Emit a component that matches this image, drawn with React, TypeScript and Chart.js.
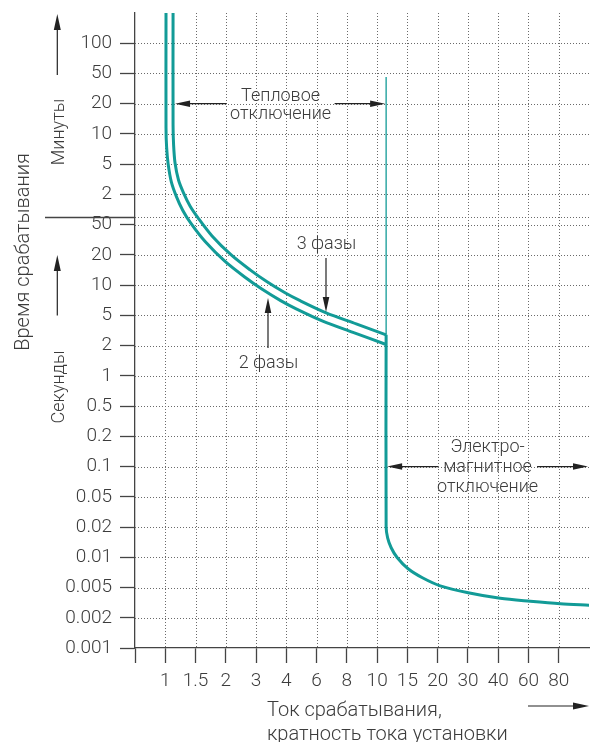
import { useEffect, useRef } from 'react';
import { Chart, registerables } from 'chart.js';

Chart.register(...registerables);

// ---------- Data ----------
// Current axis: multiples of the setting current (ticks evenly spaced on the axis)
const X_TICK_VALUES = [1, 1.5, 2, 3, 4, 6, 8, 10, 15, 20, 30, 40, 60, 80];
const X_TICK_LABELS = ['1', '1.5', '2', '3', '4', '6', '8', '10', '15', '20', '30', '40', '60', '80'];

// Time axis: seconds part and minutes part
const Y_SECOND_VALUES = [0.001, 0.002, 0.005, 0.01, 0.02, 0.05, 0.1, 0.2, 0.5, 1, 2, 5, 10, 20, 50];
const Y_SECOND_LABELS = ['0.001', '0.002', '0.005', '0.01', '0.02', '0.05', '0.1', '0.2', '0.5', '1', '2', '5', '10', '20', '50'];
const Y_MINUTE_VALUES = [2, 5, 10, 20, 50, 100];
const Y_MINUTE_LABELS = ['2', '5', '10', '20', '50', '100'];

// Thermal trip curve, 3 phases (current multiple, time in seconds)
const THREE_PHASE_CURRENT = [1.11, 1.11, 1.118, 1.14, 1.194, 1.277, 1.393, 1.536, 1.755, 2.15, 2.77, 3.33, 3.95, 4.81, 6.57, 8.57, 11.28];
const THREE_PHASE_TIME_S = [12000, 740, 467, 308, 186, 126, 86, 61, 35.6, 20, 14.2, 10.8, 8.4, 7.0, 5.3, 3.87, 2.77];

// Thermal trip curve, 2 phases
const TWO_PHASE_CURRENT = [1.01, 1.01, 1.018, 1.039, 1.0845, 1.158, 1.263, 1.4075, 1.647, 1.986, 2.575, 3.18, 3.79, 4.565, 6.36, 8.37, 11.28];
const TWO_PHASE_TIME_S = [12000, 689, 446, 302, 175.5, 114.4, 76, 52.2, 29.7, 17.2, 12.04, 9.08, 7.01, 5.8, 4.2, 2.99, 2.07];

// Electromagnetic trip
const MAGNETIC_CURRENT = [11.28, 11.28, 11.51, 12.07, 13.07, 15.1, 17.3, 20.7, 30.07, 41.1, 61, 81.2, 106.9];
const MAGNETIC_TIME_S = [2.77, 0.0202, 0.0156, 0.01245, 0.00995, 0.00769, 0.00626, 0.0052, 0.00427, 0.00361, 0.0033, 0.00306, 0.00293];

// Thin marker of the electromagnetic threshold
const MARKER_CURRENT = [11.28, 11.28];
const MARKER_TIME_S = [2700, 2.77];

// ---------- Derived ----------
const Y_TICK_SECONDS = [...Y_SECOND_VALUES, ...Y_MINUTE_VALUES.map((m) => m * 60)];
const Y_TICK_LABELS = [...Y_SECOND_LABELS, ...Y_MINUTE_LABELS];
const SCALE_BREAK = Y_SECOND_VALUES.length - 1 + 0.25; // seconds / minutes divider
const X_MAX = X_TICK_VALUES.length + 1;
const Y_MAX = Y_TICK_SECONDS.length;

const TEAL = '#129b97';
const AXIS = '#444444';
const GRID = '#6a6a6a';
const TEXT = '#3c3c3c';
const FAMILY = "Roboto, 'Liberation Sans', Arial, sans-serif";

// piecewise-logarithmic position between evenly spaced ticks
function logPos(v: number, ticks: number[], first: number): number {
  const n = ticks.length;
  let k = 0;
  while (k < n - 2 && v > ticks[k + 1]) k++;
  return first + k + Math.log(v / ticks[k]) / Math.log(ticks[k + 1] / ticks[k]);
}

function toPoints(cur: number[], time: number[]) {
  return cur.map((c, i) => ({ x: logPos(c, X_TICK_VALUES, 1), y: logPos(time[i], Y_TICK_SECONDS, 0) }));
}

function arrow(ctx: CanvasRenderingContext2D, x1: number, y1: number, x2: number, y2: number, len = 15, half = 3.3) {
  const a = Math.atan2(y2 - y1, x2 - x1);
  const c = Math.cos(a);
  const s = Math.sin(a);
  ctx.beginPath();
  ctx.moveTo(x1, y1);
  ctx.lineTo(x2 - c * len * 0.7, y2 - s * len * 0.7);
  ctx.stroke();
  ctx.beginPath();
  ctx.moveTo(x2, y2);
  ctx.lineTo(x2 - len * c + half * s, y2 - len * s - half * c);
  ctx.lineTo(x2 - len * c - half * s, y2 - len * s + half * c);
  ctx.closePath();
  ctx.fill();
}

const gridPlugin = {
  id: 'dottedGrid',
  beforeDatasetsDraw(chart: any) {
    const { ctx, chartArea } = chart;
    const xs = chart.scales.x;
    const ys = chart.scales.y;
    ctx.save();
    ctx.strokeStyle = GRID;
    ctx.lineWidth = 1;
    ctx.setLineDash([1, 2]);
    for (let i = 1; i <= X_TICK_VALUES.length; i++) {
      const px = Math.round(xs.getPixelForValue(i)) + 0.5;
      ctx.beginPath();
      ctx.moveTo(px, chartArea.top);
      ctx.lineTo(px, chartArea.bottom);
      ctx.stroke();
    }
    const yVals = Y_TICK_SECONDS.map((_, i) => i).filter((i) => i > 0);
    yVals.push(SCALE_BREAK);
    for (const v of yVals) {
      const py = Math.round(ys.getPixelForValue(v)) + 0.5;
      ctx.beginPath();
      ctx.moveTo(chartArea.left, py);
      ctx.lineTo(chartArea.right, py);
      ctx.stroke();
    }
    ctx.restore();
  },
};

const annotationPlugin = {
  id: 'annotations',
  afterDraw(chart: any) {
    const { ctx, chartArea } = chart;
    const xs = chart.scales.x;
    const ys = chart.scales.y;
    ctx.save();

    // seconds / minutes divider left of the axis
    const yb = Math.round(ys.getPixelForValue(SCALE_BREAK)) + 0.5;
    ctx.strokeStyle = AXIS;
    ctx.lineWidth = 1.3;
    ctx.beginPath();
    ctx.moveTo(45, yb);
    ctx.lineTo(chartArea.left, yb);
    ctx.stroke();

    ctx.fillStyle = TEXT;
    ctx.strokeStyle = '#222';
    ctx.lineWidth = 1.2;

    // vertical titles
    const vText = (t: string, x: number, y: number, size: number) => {
      ctx.save();
      ctx.translate(x, y);
      ctx.rotate(-Math.PI / 2);
      ctx.fillStyle = TEXT;
      ctx.font = `300 ${size}px ${FAMILY}`;
      ctx.textAlign = 'center';
      ctx.textBaseline = 'alphabetic';
      ctx.fillText(t, 0, 0);
      ctx.restore();
    };
    vText('Время срабатывания', 28.5, 252, 20);
    vText('Минуты', 63.5, 132, 18);
    vText('Секунды', 63.5, 387, 18);
    ctx.fillStyle = '#222';
    arrow(ctx, 57.3, ys.getPixelForValue(19) + 1.5, 57.3, chartArea.top + 1, 16, 3.5);
    arrow(ctx, 57.3, ys.getPixelForValue(11), 57.3, ys.getPixelForValue(13), 16, 3.5);

    const hText = (t: string, x: number, y: number, size: number, align: CanvasTextAlign = 'center') => {
      ctx.fillStyle = TEXT;
      ctx.font = `300 ${size}px ${FAMILY}`;
      ctx.textAlign = align;
      ctx.textBaseline = 'alphabetic';
      ctx.fillText(t, x, y);
      ctx.fillStyle = '#222';
    };

    // thermal trip zone
    const xTherm = xs.getPixelForValue(logPos(THREE_PHASE_CURRENT[0], X_TICK_VALUES, 1)) + 2;
    const xMag = xs.getPixelForValue(logPos(MAGNETIC_CURRENT[0], X_TICK_VALUES, 1));
    const yT = ys.getPixelForValue(18);
    const cT = (xTherm + xMag) / 2;
    arrow(ctx, cT - 54, yT, xTherm, yT);
    arrow(ctx, cT + 54, yT, xMag - 1, yT);
    hText('Тепловое', cT, yT - 3, 18);
    hText('отключение', cT, yT + 15.5, 18);

    // electromagnetic zone
    const yE = ys.getPixelForValue(6);
    const xL = xMag + 1;
    const xR = chartArea.right - 1;
    const cE = (xL + xR) / 2;
    arrow(ctx, cE - 49.5, yE, xL, yE);
    arrow(ctx, cE + 49.5, yE, xR, yE);
    hText('Электро-', cE, yE - 15, 18);
    hText('магнитное', cE, yE + 5, 18);
    hText('отключение', cE, yE + 25, 18);

    // phase labels
    hText('3 фазы', 326.5, 249, 18);
    arrow(ctx, 326, 258, 326, 312);
    hText('2 фазы', 268.5, 368, 18);
    arrow(ctx, 268, 348, 268, 298);

    // x title
    hText('Ток срабатывания,', 267, 716, 20, 'left');
    hText('кратность тока установки', 267, 740, 20, 'left');
    arrow(ctx, 528, 706, chartArea.right, 706, 16, 3.5);

    ctx.restore();
  },
};

export default function App() {
  const ref = useRef<HTMLCanvasElement>(null);

  useEffect(() => {
    const canvas = ref.current;
    if (!canvas) return;
    const lineDs = (data: any[], width: number) => ({
      data,
      showLine: true,
      borderColor: TEAL,
      backgroundColor: TEAL,
      borderWidth: width,
      pointRadius: 0,
      pointHoverRadius: 0,
      tension: 0.3,
      fill: false,
    });
    const tickFont = { family: FAMILY, size: 19, weight: 300 as any };
    const chart = new Chart(canvas, {
      type: 'scatter',
      data: {
        datasets: [
          lineDs(toPoints(MARKER_CURRENT, MARKER_TIME_S), 1.3),
          lineDs(toPoints(TWO_PHASE_CURRENT, TWO_PHASE_TIME_S), 3),
          lineDs(toPoints(THREE_PHASE_CURRENT, THREE_PHASE_TIME_S), 3),
          lineDs(toPoints(MAGNETIC_CURRENT, MAGNETIC_TIME_S), 3),
        ],
      },
      options: {
        responsive: false,
        animation: false,
        events: [],
        layout: { padding: { top: 13, right: 6, left: 0, bottom: 0 } },
        plugins: { legend: { display: false }, tooltip: { enabled: false } },
        scales: {
          x: {
            type: 'linear',
            min: 0,
            max: X_MAX,
            afterBuildTicks: (s: any) => {
              s.ticks = Array.from({ length: X_TICK_VALUES.length + 1 }, (_, i) => ({ value: i }));
            },
            afterFit: (s: any) => {
              s.height = 94;
              s.paddingLeft = 0;
              s.paddingRight = 0;
            },
            ticks: {
              autoSkip: false,
              maxRotation: 0,
              padding: 7,
              color: TEXT,
              font: tickFont,
              callback: (v: any) => (v >= 1 ? X_TICK_LABELS[v - 1] : ''),
            },
            grid: {
              drawOnChartArea: false,
              color: AXIS,
              tickLength: 15,
              tickColor: AXIS,
              tickWidth: 1.3,
            },
            border: { display: true, color: AXIS, width: 1.3 },
          },
          y: {
            type: 'linear',
            min: 0,
            max: Y_MAX,
            afterBuildTicks: (s: any) => {
              s.ticks = Y_TICK_SECONDS.map((_, i) => ({ value: i }));
            },
            afterFit: (s: any) => {
              s.width = 135;
              s.paddingTop = 0;
              s.paddingBottom = 0;
            },
            ticks: {
              autoSkip: false,
              padding: 8,
              color: TEXT,
              font: tickFont,
              callback: (v: any) => Y_TICK_LABELS[v] ?? '',
            },
            grid: {
              drawOnChartArea: false,
              color: AXIS,
              tickLength: 15,
              tickColor: AXIS,
              tickWidth: 1.3,
            },
            border: { display: true, color: AXIS, width: 1.3 },
          },
        },
      },
      plugins: [gridPlugin, annotationPlugin],
    } as any);
    return () => chart.destroy();
  }, []);

  return (
    <div style={{ position: 'absolute', left: 0, top: 0, width: 595, height: 742, background: '#fff', overflow: 'hidden' }}>
      <canvas ref={ref} width={595} height={742} style={{ display: 'block', width: 595, height: 742 }} />
    </div>
  );
}
